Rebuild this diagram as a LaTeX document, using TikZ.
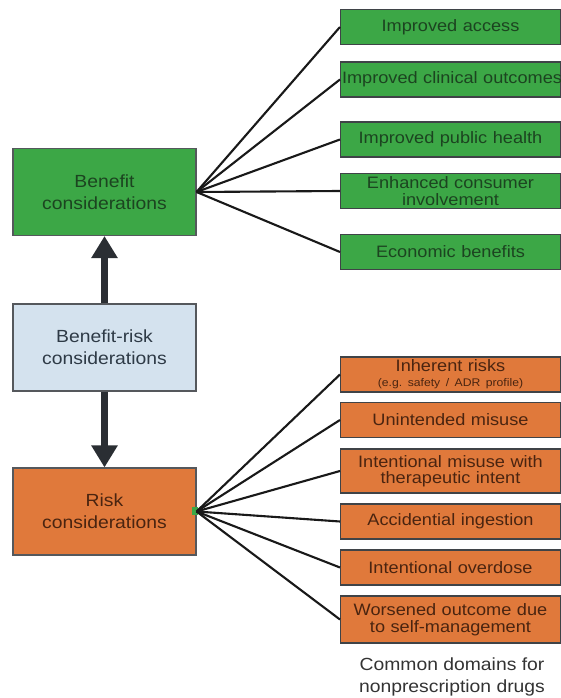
\documentclass[tikz,border=0pt]{standalone}
\usepackage{fontspec}
\setmainfont{Liberation Sans}[FakeStretch=1.1]
\usepackage{tikz}
\usetikzlibrary{arrows.meta,positioning}
\definecolor{LeafGreen}{HTML}{3CA746}
\definecolor{DeepGreen}{HTML}{1C4420}
\definecolor{Rust}{HTML}{E0793B}
\definecolor{DeepRust}{HTML}{4A2410}
\definecolor{PaleSky}{HTML}{D4E2EE}
\definecolor{Slate}{HTML}{2E3A46}
\definecolor{Ink}{HTML}{2A2E33}
\hyphenpenalty=10000
\frenchspacing

\begin{document}
\begin{tikzpicture}[
  font=\fontsize{9.4}{9.4}\selectfont,
  mainbox/.style={draw=Ink!80,line width=0.6pt,align=center,
    minimum width=36.6mm,minimum height=17.4mm,inner sep=1mm,
    font=\fontsize{10}{12.5}\selectfont},
  gain/.style={draw=Ink!90,line width=0.6pt,fill=LeafGreen,text=DeepGreen,
    text width=43.4mm,minimum height=7mm,align=center,inner sep=0.3mm},
  hazard/.style={draw=Ink!90,line width=0.6pt,fill=Rust,text=DeepRust,
    text width=43.4mm,minimum height=7mm,align=center,inner sep=0.3mm},
  link/.style={line width=1.2pt,color=black!90},
  bigarr/.style={-{Triangle[length=4.4mm,width=5mm]},line width=4.5pt,color=Ink}
]
\useasboundingbox (0,0) rectangle (11.22,13.96);

% Central chain.
\node[mainbox,fill=LeafGreen,text=DeepGreen] (benefit) at (2.09,10.12)
  {Benefit\\considerations};
\node[mainbox,fill=PaleSky,text=Slate] (balance) at (2.09,7.01)
  {Benefit-risk\\considerations};
\node[mainbox,fill=Rust,text=DeepRust] (risk) at (2.09,3.73)
  {Risk\\considerations};
\draw[bigarr] (balance.north)--(benefit.south);
\draw[bigarr] (balance.south)--(risk.north);
\node[fill=LeafGreen,inner sep=0pt,minimum width=1.2mm,minimum height=1.6mm]
  (handle) at ([xshift=-0.3mm]risk.east) {};

% Benefit domains.
\foreach \i/\y/\txt in {1/13.42/Improved access,
                        2/12.37/\mbox{Improved clinical outcomes},
                        3/11.17/Improved public health,
                        4/10.14/{Enhanced consumer\\involvement},
                        5/8.92/Economic benefits} {
  \node[gain] (ben\i) at (9.01,\y) {\txt};
  \draw[link] (benefit.east)--(ben\i.west);
}

% Risk domains.
\foreach \i/\y/\h/\txt in {1/6.47/7/{Inherent risks\\[-1pt]{\fontsize{6.3}{7}\selectfont\mbox{(e.g. safety / ADR profile)}}},
                           2/5.56/7/Unintended misuse,
                           3/4.54/8.8/{Intentional misuse with\\therapeutic intent},
                           4/3.53/7/Accidential ingestion,
                           5/2.61/7/Intentional overdose,
                           6/1.57/9.4/{Worsened outcome due\\to self-management}} {
  \node[hazard,minimum height=\h mm] (rsk\i) at (9.01,\y) {\txt};
  \draw[link] (risk.east)--(rsk\i.west);
}

\node[align=center,text=black!80,font=\fontsize{10}{13}\selectfont] (caption)
  at (9.04,0.42) {Common domains for\\nonprescription drugs};
\end{tikzpicture}
\end{document}
